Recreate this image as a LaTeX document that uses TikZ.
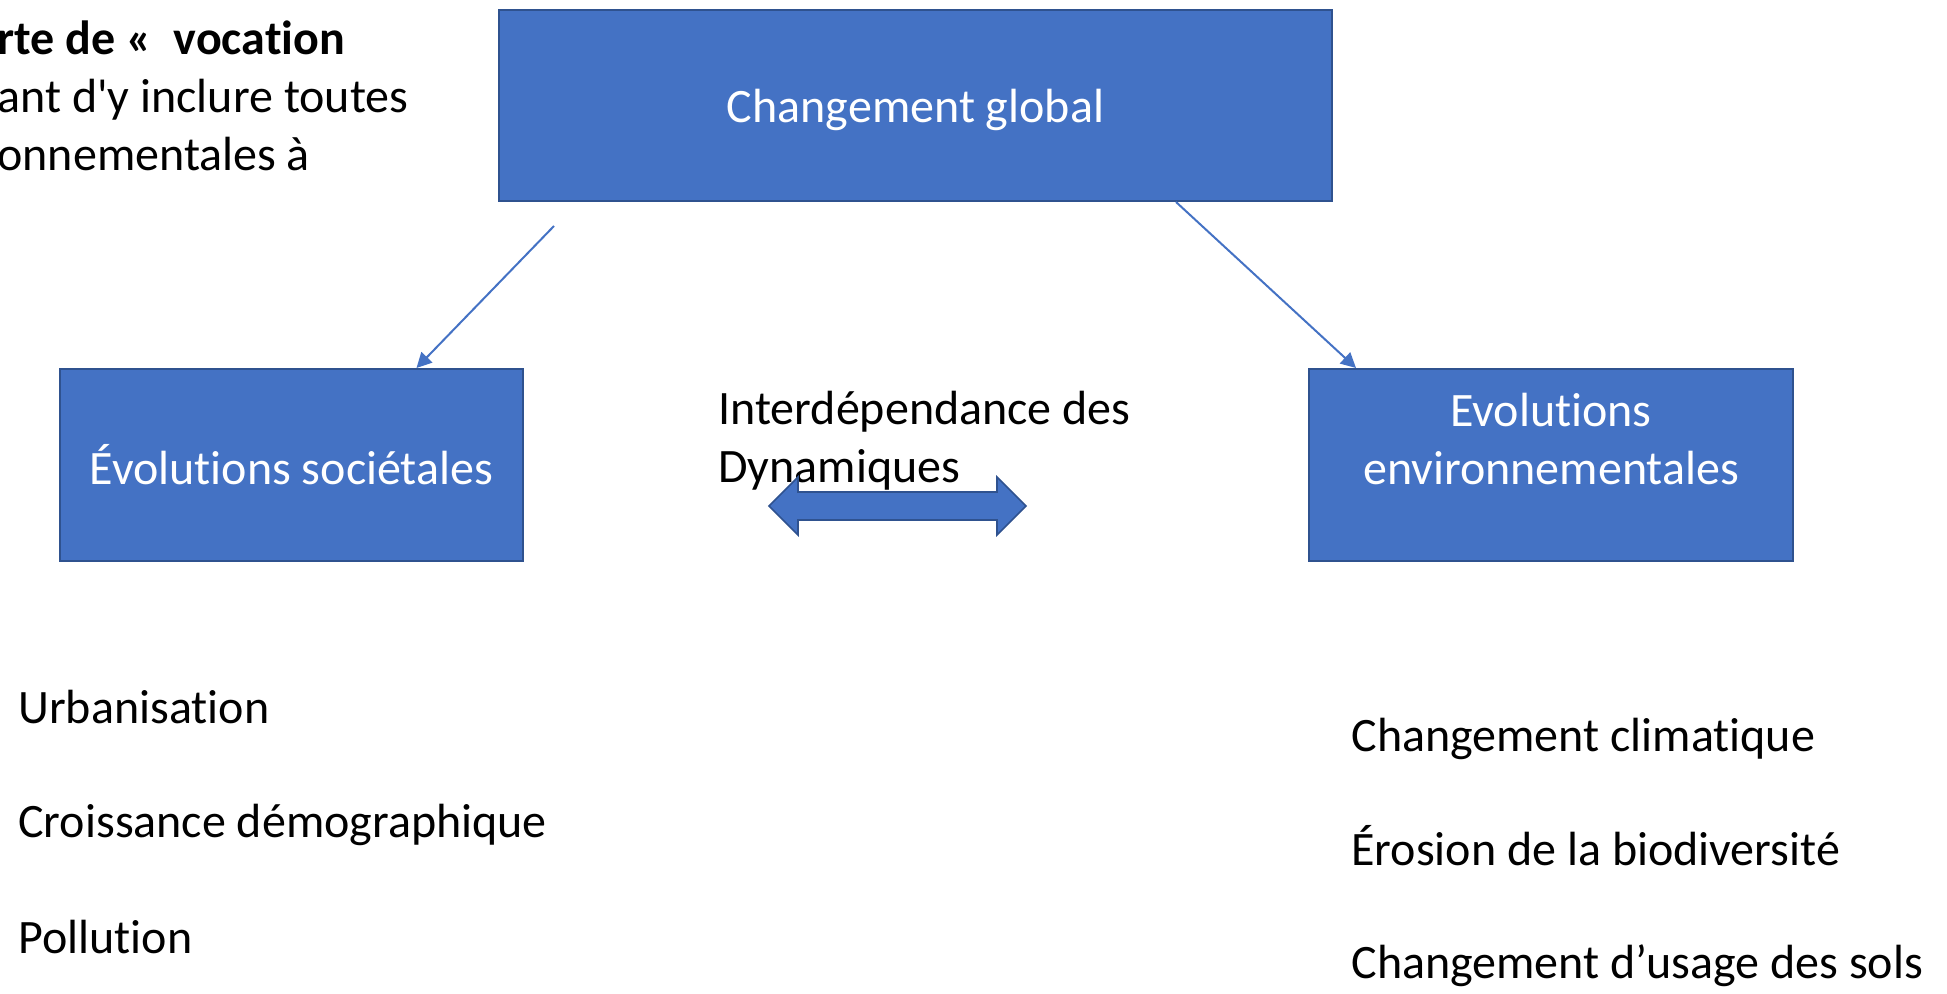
\documentclass[tikz,border=0pt]{standalone}
\usepackage{fontspec}
\setmainfont{Carlito}[Ligatures={TeXOff,CommonOff}]
\usetikzlibrary{positioning,arrows.meta,calc}
\definecolor{boxblue}{HTML}{4472C4}
\definecolor{boxedge}{HTML}{2F528F}

\begin{document}
\begin{tikzpicture}[x=0.5pt,y=-0.5pt,
    every node/.style={font=\fontsize{24}{29}\selectfont},
    bluebox/.style={shape=rectangle,fill=boxblue,draw=boxedge,line width=1pt,text=white,align=center,inner sep=0pt},
    link/.style={draw=boxblue,line width=1pt,-{Triangle[length=7.5pt,width=7.5pt]}},
    txt/.style={anchor=base west,inner sep=0pt,align=left}]
        \useasboundingbox (0,0) rectangle (1947,994);
        % cut text in the corner (base = last line)
        \node[txt] (note) at (-3,171) {\textbf{rte de «~ vocation}\\ant d'y inclure toutes\\onnementales à};
        % the three boxes
        \node[bluebox,minimum width=416.5pt,minimum height=95.5pt,text depth=0pt] (global) at (915.5,105.5) {Changement global};
        \node[bluebox,minimum width=231.5pt,minimum height=96pt] (soc) at (291.5,465) {Évolutions sociétales};
        \node[bluebox,minimum width=242pt,minimum height=96pt] (env) at (1551,465) {Evolutions\\environnementales\\[-3pt]\mbox{}};
        \coordinate (gstart) at (554,226);
        \draw[link] (gstart) -- ($(soc.north)+(125,0)$);
        \draw[link] ($(global.south)+(260.5,0)$) -- ($(env.north west)+(48,0)$);
        % interdependance
        \node[txt] (dyn) at (718,482) {Interdépendance des\\Dynamiques};
        \coordinate (inter) at (897.5,506);
        \draw[fill=boxblue,draw=boxedge,line width=0.8pt]
            ($(inter)+(-128.5,0)$) -- ($(inter)+(-99.5,-29)$) -- ($(inter)+(-99.5,-14)$)
            -- ($(inter)+(99.5,-14)$) -- ($(inter)+(99.5,-29)$) -- ($(inter)+(128.5,0)$)
            -- ($(inter)+(99.5,29)$) -- ($(inter)+(99.5,14)$) -- ($(inter)+(-99.5,14)$)
            -- ($(inter)+(-99.5,29)$) -- cycle;
        % lists
        \node[txt] (urb) at (18,723) {Urbanisation};
        \node[txt] (demo) at (18,837) {Croissance démographique};
        \node[txt] (poll) at (18,953) {Pollution};
        \node[txt] (clim) at (1351,751) {Changement climatique};
        \node[txt] (bio) at (1351,865) {Érosion de la biodiversité};
        \node[txt] (sols) at (1351,978) {Changement d’usage des sols};
\end{tikzpicture}
\end{document}
